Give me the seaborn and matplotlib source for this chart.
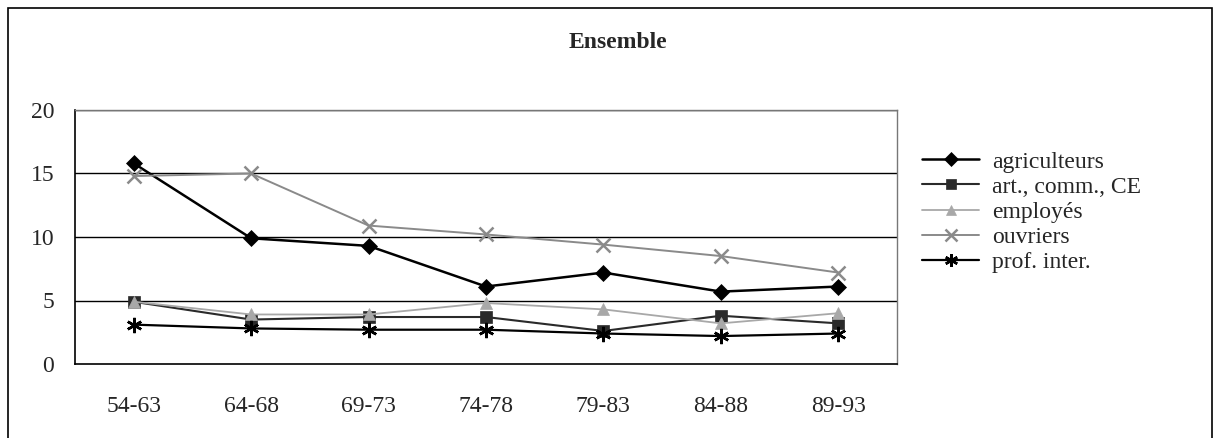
import matplotlib
matplotlib.use("Agg")
import matplotlib.pyplot as plt
import seaborn as sns
import pandas as pd
from matplotlib.patches import Rectangle
from matplotlib.ticker import FixedLocator

periods = ["54-63", "64-68", "69-73", "74-78", "79-83", "84-88", "89-93"]
agriculteurs = [15.8, 9.9, 9.3, 6.1, 7.2, 5.7, 6.1]
art_comm_ce = [4.9, 3.5, 3.7, 3.7, 2.6, 3.8, 3.2]
employes = [4.9, 3.9, 3.9, 4.8, 4.3, 3.2, 4.0]
ouvriers = [14.8, 15.0, 10.9, 10.2, 9.4, 8.5, 7.2]
prof_inter = [3.1, 2.8, 2.7, 2.7, 2.4, 2.2, 2.4]
series_names = ["agriculteurs", "art., comm., CE", "employés", "ouvriers", "prof. inter."]
title = "Ensemble"

sns.set_style("white")
plt.rcParams['font.family'] = ['Liberation Serif', 'DejaVu Serif']

rows = []
for name, vals in zip(series_names, [agriculteurs, art_comm_ce, employes, ouvriers, prof_inter]):
    for i, (p, v) in enumerate(zip(periods, vals)):
        rows.append({"pos": i, "period": p, "value": v, "serie": name})
df = pd.DataFrame(rows)

palette = {"agriculteurs": "#000000", "art., comm., CE": "#2a2a2a", "employés": "#a8a8a8",
           "ouvriers": "#8a8a8a", "prof. inter.": "#000000"}
markers = {"agriculteurs": "D", "art., comm., CE": "s", "employés": "^",
           "ouvriers": "x", "prof. inter.": (6, 2, 0)}
msize = {"agriculteurs": 8, "art., comm., CE": 8, "employés": 8, "ouvriers": 10, "prof. inter.": 11}
lw = {"agriculteurs": 1.8, "art., comm., CE": 1.5, "employés": 1.3, "ouvriers": 1.4, "prof. inter.": 1.6}

FS = 17

fig = plt.figure(figsize=(12.15, 4.38), dpi=100)
ax = fig.add_axes([75/1215, 1-364/438, (897-75)/1215, (364-110)/438])

for name in series_names:
    sub = df[df.serie == name]
    sns.lineplot(data=sub, x="pos", y="value", ax=ax, color=palette[name],
                 marker=markers[name], markersize=msize[name],
                 markeredgewidth=1.8 if name in ("ouvriers", "prof. inter.") else 0.5,
                 markeredgecolor=palette[name], linewidth=lw[name], label=name)

handles, labels = ax.get_legend_handles_labels()
if ax.get_legend() is not None:
    ax.get_legend().remove()

ax.set_xlim(-0.5, 6.5)
ax.set_ylim(0, 20)
ax.set_yticks([0, 5, 10, 15, 20])
ax.set_xticks(range(len(periods)))
ax.set_xticklabels(periods)
ax.xaxis.set_minor_locator(FixedLocator([i + 0.5 for i in range(-1, len(periods))]))
ax.tick_params(axis='x', which='major', length=0, labelsize=FS, pad=23)
ax.tick_params(axis='x', which='minor', length=7, width=1, color='black', direction='out')
ax.tick_params(axis='y', which='major', length=8, width=1, color='black', direction='out', labelsize=FS, pad=7)
ax.set_xlabel("")
ax.set_ylabel("")
ax.grid(False)
for y in [5, 10, 15, 20]:
    ax.axhline(y, color='black', linewidth=1, zorder=0)
for s in ["left", "bottom"]:
    ax.spines[s].set_color("black")
    ax.spines[s].set_linewidth(1.2)
for s in ["right", "top"]:
    ax.spines[s].set_color("#777777")
    ax.spines[s].set_linewidth(1.0)

fig.legend(handles, labels, loc='center left', bbox_to_anchor=(913/1215, 1-212/438),
           frameon=False, fontsize=FS, handlelength=2.4, labelspacing=0.15,
           handletextpad=0.55, borderaxespad=0, markerscale=0.85)

fig.text(618/1215, 1-42/438, title, ha='center', va='center', fontsize=FS, fontweight='bold')

fig.patches.append(Rectangle((8/1215, -0.02), (1212-8)/1215, (438-8)/438 + 0.02,
                             transform=fig.transFigure, fill=False, edgecolor='black',
                             linewidth=1.2, figure=fig))

fig.savefig("out.png", dpi=100)
